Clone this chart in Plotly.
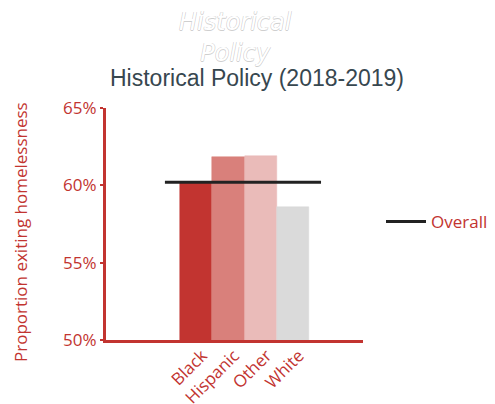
import plotly.graph_objects as go

categories = ["Black", "Hispanic", "Other", "White"]
values = [0.602, 0.618, 0.619, 0.586]
overall = 0.602
bar_colors = ["#c23430", "#d9807b", "#eabbb9", "#dadada"]
y_ticks = [0.50, 0.55, 0.60, 0.65]
y_tick_labels = ["50%", "55%", "60%", "65%"]

RED = "#c23430"
xpos = list(range(len(categories)))

W, H = 495, 404
L, R, T, B = 98, 140, 100, 72
PW = W - L - R
PH = H - T - B

fig = go.Figure()
for i, (c, v, col) in enumerate(zip(categories, values, bar_colors)):
    fig.add_trace(go.Bar(
        x=[xpos[i]], y=[v], width=1, name=c, showlegend=False,
        marker=dict(color=col, line=dict(color=col, width=0.5)),
    ))

fig.add_trace(go.Scatter(
    x=[-0.965, 3.87], y=[overall, overall], mode="lines", name="Overall",
    line=dict(color="#222222", width=3), showlegend=True,
))

fig.update_layout(
    width=W, height=H,
    margin=dict(l=L, r=R, t=T, b=B, autoexpand=False),
    plot_bgcolor="white", paper_bgcolor="white",
    barmode="overlay", bargap=0,
    font=dict(family="Open Sans", color=RED),
    showlegend=True,
    legend=dict(x=(373 - L) / PW, y=0.509, xanchor="left", yanchor="middle",
                itemwidth=40,
                font=dict(size=17, color=RED, family="Open Sans"),
                bgcolor="rgba(0,0,0,0)"),
    xaxis=dict(
        range=[-2.79, 5.17], tickvals=xpos, ticktext=categories,
        tickangle=-45, showgrid=False, zeroline=False, automargin=False,
        showline=True, linecolor=RED, linewidth=3,
        ticklabelshift=6, ticklabelstandoff=-4,
        tickfont=dict(size=17, color=RED, family="Open Sans"),
    ),
    yaxis=dict(
        range=[0.5, 0.65], tickvals=y_ticks, ticktext=y_tick_labels,
        showgrid=False, zeroline=False, automargin=False,
        showline=True, linecolor=RED, linewidth=3,
        ticks="outside", ticklen=3, tickwidth=2, tickcolor=RED,
        tickfont=dict(size=17, color=RED, family="Open Sans"),
    ),
)

# y-axis title
fig.add_annotation(
    text="Proportion exiting homelessness", xref="paper", yref="paper",
    x=(12 - L) / PW, y=(PH + T - 224) / PH, xanchor="center", yanchor="middle",
    textangle=-90, showarrow=False,
    font=dict(size=17, color=RED, family="Open Sans"),
)

fig.add_annotation(
    text="Historical Policy (2018-2019)", xref="paper", yref="paper",
    x=(249 - L) / PW, y=1.0, yshift=30, xanchor="center", yanchor="middle",
    showarrow=False,
    font=dict(family="Liberation Sans", size=23, color="#37474f"),
)
fig.add_annotation(
    text="<i>Historical<br>Policy</i>", xref="paper", yref="paper",
    x=(227 - L) / PW, y=1.0, yshift=71, xanchor="center", yanchor="middle",
    showarrow=False,
    font=dict(family="DejaVu Sans", size=24, color="white",
              shadow="0.5px 0 0 #cfcfcf, -0.5px 0 0 #cfcfcf, 0 0.5px 0 #cfcfcf, 0 -0.5px 0 #cfcfcf"),
)

fig.write_html("out.html")
